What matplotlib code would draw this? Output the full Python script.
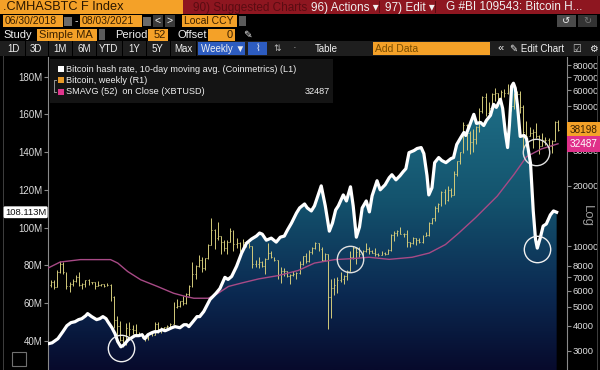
import matplotlib
matplotlib.use("Agg")
import matplotlib.pyplot as plt
import matplotlib.transforms as mtransforms
import matplotlib.dates as mdates
from matplotlib.patches import Rectangle
from matplotlib.colors import LinearSegmentedColormap
import numpy as np
import pandas as pd

plt.rcParams['font.family'] = ['Liberation Sans', 'DejaVu Sans']

# ---- hash rate, 10-day MA (millions TH/s)
hash_dates = ['2018-06-30', '2018-07-09', '2018-07-22', '2018-08-02', '2018-08-11', '2018-08-20',
              '2018-08-29', '2018-09-06', '2018-09-13', '2018-09-22', '2018-09-26', '2018-10-05',
              '2018-10-16', '2018-10-23', '2018-10-30', '2018-11-06', '2018-11-10', '2018-11-19',
              '2018-11-26', '2018-12-02', '2018-12-09', '2018-12-16', '2018-12-25', '2019-01-02',
              '2019-01-09', '2019-01-18', '2019-01-25', '2019-01-31', '2019-02-07', '2019-02-16',
              '2019-02-22', '2019-03-01', '2019-03-10', '2019-03-17', '2019-03-23', '2019-04-01',
              '2019-04-08', '2019-04-19', '2019-04-28', '2019-05-04', '2019-05-09', '2019-05-18',
              '2019-05-27', '2019-06-02', '2019-06-11', '2019-06-25', '2019-07-08', '2019-07-17',
              '2019-07-28', '2019-08-04', '2019-08-12', '2019-08-23', '2019-09-03', '2019-09-14',
              '2019-09-25', '2019-10-06', '2019-10-13', '2019-10-19', '2019-10-28', '2019-11-08',
              '2019-11-19', '2019-11-28', '2019-12-07', '2019-12-14', '2019-12-23', '2020-01-03',
              '2020-01-10', '2020-01-21', '2020-01-27', '2020-02-05', '2020-02-12', '2020-02-18',
              '2020-02-27', '2020-03-07', '2020-03-16', '2020-03-23', '2020-03-30', '2020-04-05',
              '2020-04-16', '2020-04-23', '2020-05-02', '2020-05-08', '2020-05-15', '2020-05-22',
              '2020-05-28', '2020-06-06', '2020-06-13', '2020-06-19', '2020-06-30', '2020-07-07',
              '2020-07-18', '2020-07-27', '2020-08-02', '2020-08-11', '2020-08-20', '2020-08-27',
              '2020-09-02', '2020-09-09', '2020-09-20', '2020-09-27', '2020-10-06', '2020-10-12',
              '2020-10-19', '2020-10-23', '2020-10-30', '2020-11-05', '2020-11-14', '2020-11-21',
              '2020-11-30', '2020-12-11', '2020-12-17', '2020-12-24', '2021-01-02', '2021-01-09',
              '2021-01-13', '2021-01-20', '2021-01-31', '2021-02-06', '2021-02-15', '2021-02-22',
              '2021-02-28', '2021-03-09', '2021-03-16', '2021-03-22', '2021-03-31', '2021-04-05',
              '2021-04-11', '2021-04-16', '2021-04-20', '2021-04-25', '2021-04-29', '2021-05-03',
              '2021-05-08', '2021-05-14', '2021-05-23', '2021-05-28', '2021-06-06', '2021-06-12',
              '2021-06-17', '2021-06-21', '2021-06-28', '2021-07-04', '2021-07-11', '2021-07-20',
              '2021-07-27', '2021-08-03']
hash_vals = [38.4, 38.9, 41.1, 44.8, 48.0, 49.6,
             50.1, 51.2, 51.7, 53.3, 54.4, 52.8,
             51.2, 51.7, 52.8, 51.7, 50.1, 46.9,
             43.7, 39.5, 36.8, 37.9, 40.5, 41.6,
             42.7, 42.7, 43.2, 41.1, 43.2, 44.3,
             44.8, 44.8, 45.9, 45.3, 45.9, 46.9,
             47.5, 46.9, 48.5, 48.5, 47.5, 50.1,
             52.8, 52.8, 55.5, 61.9, 65.1, 67.7,
             73.6, 72.5, 74.1, 79.5, 86.4, 91.7,
             93.9, 95.5, 97.1, 96.5, 93.3, 94.4,
             92.3, 94.9, 95.5, 98.7, 102.4, 107.7,
             110.4, 112.5, 110.4, 108.8, 111.5, 115.7,
             122.1, 111.5, 98.1, 102.4, 109.3, 111.5,
             117.3, 114.1, 121.6, 111.5, 94.9, 100.3,
             110.4, 114.1, 108.3, 116.8, 124.8, 120.0,
             122.7, 126.4, 128.0, 125.3, 127.5, 129.6,
             131.2, 139.7, 140.8, 141.9, 142.4, 139.2,
             127.5, 117.3, 121.1, 134.4, 137.1, 135.5,
             134.4, 136.5, 137.1, 144.0, 147.7, 150.4,
             148.8, 153.1, 160.0, 155.2, 155.7, 154.1,
             156.8, 159.5, 165.3, 163.7, 168.0, 163.2,
             150.4, 142.4, 154.1, 174.9, 176.5, 173.9,
             164.8, 148.3, 148.8, 147.2, 133.9, 108.8,
             93.9, 89.1, 94.9, 100.8, 101.9, 106.7,
             108.8, 108.113]

# ---- XBTUSD weekly bars (close / high / low), first bar opens at first_open
first_open = 6390
closes = [6600, 6250, 7400, 8200, 7400, 6300, 6500, 6700, 7000, 6400, 6500, 6750, 6600,
          6600, 6300, 6400, 6450, 6350, 6400, 5600, 4300, 4000, 3400, 3250, 3900, 3850,
          # 2019
          3800, 3600, 3650, 3570, 3480, 3650, 3620, 4100, 3820, 3900, 3950, 4000, 4100,
          5000, 5050, 5300, 5200, 5800, 6300, 7300, 8000, 8500, 7800, 8700, 10200, 12000,
          11000, 11300, 10500, 9800, 10500, 11900, 10300, 10400, 9600, 10500, 10350, 10000, 8200,
          8150, 8300, 7950, 8650, 9250, 8800, 8500, 7300, 7550, 7500, 7100, 7150, 7250,
          # 2020
          7350, 8200, 8900, 8450, 9350, 9800, 10350, 9700, 8550, 9100, 5600, 6200, 6400,
          6750, 6900, 7100, 7550, 8800, 9800, 9350, 9150, 9450, 9650, 9450, 9300, 9150,
          9050, 9250, 9150, 9550, 11350, 11600, 11850, 11550, 11550, 10500, 10400, 11000, 10700,
          10550, 11300, 11350, 13000, 13800, 15500, 16300, 18700, 17100, 19150, 18050, 23000, 26500,
          # 2021
          29400, 40500, 36800, 33000, 34300, 39300, 47500, 55900, 46200, 48800,
          57300, 58300, 55200, 59000, 58100, 61300, 50100, 57800, 57400, 49700,
          37300, 35600, 36800, 37300, 35600, 31600, 33800, 33800, 31500, 33600,
          41500, 38198]
highs = [6780, 6800, 7600, 8450, 8300, 7450, 6600, 6850, 7150, 7400, 6550, 6800, 6850,
         6650, 6650, 6700, 6500, 6500, 6550, 6450, 5650, 4500, 4250, 3550, 4150, 4200,
         4050, 4100, 3750, 3700, 3600, 3700, 3700, 4200, 4180, 3950, 3970, 4050, 4150,
         5250, 5450, 5350, 5650, 5850, 6400, 8300, 8100, 9000, 8800, 8750, 10300, 13850,
         12200, 13150, 11200, 10700, 10700, 12300, 12000, 10950, 10450, 10900, 10600, 10400, 10050,
         8500, 8800, 8400, 8750, 10350, 9500, 8850, 8550, 7850, 7750, 7550, 7250, 7550,
         7450, 8450, 8950, 9200, 9550, 9900, 10500, 10400, 9950, 9200, 9150, 6900, 6950,
         7000, 7450, 7150, 7650, 9450, 10050, 9950, 9900, 9600, 10400, 9950, 9600, 9800,
         9300, 9450, 9350, 9650, 11450, 11900, 12100, 12450, 11650, 12050, 10550, 11100, 11000,
         10950, 11400, 11750, 13250, 13850, 15950, 16500, 18800, 19400, 19900, 19450, 23800, 26800,
         29600, 41900, 40600, 37800, 38400, 39700, 48900, 56300, 58300, 52600,
         58000, 61800, 58500, 60000, 61200, 64900, 61300, 58500, 59500, 59600,
         50600, 42400, 39400, 38500, 41300, 35900, 36600, 35100, 34900, 33800,
         42200, 42500]
lows = [6250, 6100, 6250, 7350, 7300, 6150, 5900, 6300, 6650, 6300, 6150, 6280, 6400,
        6450, 6150, 6300, 6350, 6250, 6300, 5300, 3900, 3550, 3350, 3150, 3200, 3550,
        3650, 3550, 3550, 3500, 3380, 3400, 3560, 3600, 3700, 3700, 3800, 3900, 3950,
        4100, 4900, 4950, 5100, 5150, 5650, 6250, 6900, 7900, 7450, 7650, 8600, 10150,
        9650, 10800, 9100, 9500, 9150, 10500, 9500, 9800, 9350, 9600, 9900, 9850, 7750,
        7850, 7800, 7850, 7300, 8650, 8700, 8400, 6900, 6550, 7100, 7050, 6450, 7100,
        6900, 7300, 8050, 8250, 8350, 9150, 9700, 9450, 8450, 8450, 3850, 4400, 5700,
        5850, 6650, 6500, 6800, 7500, 8600, 8150, 8800, 8700, 9400, 9100, 9200, 8950,
        8900, 9050, 9050, 9150, 9500, 10650, 11200, 11450, 11100, 9900, 9900, 10250, 10150,
        10400, 10400, 11200, 11300, 12900, 13300, 14850, 15800, 16300, 16900, 17650, 18000, 22400,
        25800, 29100, 30400, 28900, 29700, 32300, 37400, 46300, 44900, 45100,
        48300, 53300, 50400, 54900, 55500, 57900, 47100, 48500, 53000, 46300,
        30100, 31200, 35400, 31100, 34800, 28800, 31600, 32100, 31100, 29300,
        33600, 37500]

# ---- SMAVG(52) on close
sma_dates = ['2018-06-30', '2018-07-27', '2018-09-10', '2018-11-16', '2018-12-02', '2018-12-24',
             '2019-01-22', '2019-02-28', '2019-04-05', '2019-05-02', '2019-05-20', '2019-06-21',
             '2019-07-13', '2019-08-05', '2019-09-03', '2019-10-11', '2019-11-24', '2020-01-07',
             '2020-02-12', '2020-03-28', '2020-05-05', '2020-06-12', '2020-07-27', '2020-09-16',
             '2020-10-24', '2020-11-29', '2020-12-29', '2021-02-04', '2021-03-24', '2021-04-30',
             '2021-05-28', '2021-06-30', '2021-08-06']
sma_vals = [7780, 8340, 8575, 8575, 8240, 7480,
            6800, 6300, 5825, 5610, 5500, 5500,
            5825, 6300, 6550, 6870, 7140, 7570,
            8240, 8575, 8670, 8810, 8600, 8810,
            9250, 10200, 11660, 13900, 17800, 22800,
            28000, 30600, 32487]

# highlighted spots (white rings)
ring_hash_dates = ['2018-12-09', '2021-06-21']
ring_hash_vals = [36.0, 88.5]
ring_px_dates = ['2020-05-02', '2021-06-18']
ring_px_vals = [8670, 29400]

last_hash = 108.113
last_px = 38198
last_sma = 32487

left_ticks = [40, 60, 80, 100, 120, 140, 160, 180]
right_ticks = [3000, 4000, 5000, 6000, 7000, 8000, 10000, 20000, 30000, 40000,
               50000, 60000, 70000, 80000]

ORANGE = '#f4a128'
W, H = 600, 370
fig = plt.figure(figsize=(6, 3.7), dpi=100, facecolor='black')


def px_box(x0, y0, x1, y1, color, z=2, fill=True):
    fig.add_artist(Rectangle((x0 / W, 1 - y1 / H), (x1 - x0) / W, (y1 - y0) / H,
                             transform=fig.transFigure, facecolor=color if fill else 'none',
                             edgecolor='none' if fill else color, lw=0.8, zorder=z))


def px_text(x, y, s, color='#f0f0f0', size=7.5, ha='left', **kw):
    fig.text(x / W, 1 - y / H, s, color=color, fontsize=size, ha=ha, va='center', zorder=6, **kw)


# ---- header rows
px_box(0, 0, 183, 14, ORANGE)
px_text(3, 7.5, '.CMHASBTC F Index', color='#2a1600', size=9.2)
px_box(183, 0, 600, 14, '#8e1620')
px_text(193, 7.5, '90) Suggested Charts', color='#5a0c12', size=8.5)
px_text(311, 7.5, '96) Actions ▾', size=8.5)
px_box(379.5, 1, 380.5, 13, '#5a0c12', z=3)
px_text(385, 7.5, '97) Edit ▾', size=8.5)
px_box(434.5, 1, 435.5, 13, '#5a0c12', z=3)
px_text(446, 7.5, 'G #BI 109543: Bitcoin H...', size=8.5)

px_box(3, 15, 63, 27, ORANGE)
px_text(5, 21, '06/30/2018', color='#3a2000', size=7.5)
px_box(64, 16.5, 72, 25.5, '#6a6a6a')
px_text(75, 21, '-')
px_box(80, 15, 142, 27, ORANGE)
px_text(82, 21, '08/03/2021', color='#3a2000', size=7.5)
px_box(143, 16.5, 151, 25.5, '#6a6a6a')
px_box(153, 15, 163, 27, '#3a3a3a')
px_text(158, 21, '<', ha='center', size=7.5)
px_box(165, 15, 175, 27, '#3a3a3a')
px_text(170, 21, '>', ha='center', size=7.5)
px_box(182, 15, 237, 27, ORANGE)
px_text(184, 21, 'Local CCY', color='#3a2000', size=7.5)
px_box(239, 16, 246, 26, '#5a5a5a')
px_box(557, 15, 576, 27, '#4a4a4a')
px_text(566.5, 21, '↺', ha='center', size=7)
px_box(578, 15, 597, 27, '#333333')
px_text(587.5, 21, '↻', ha='center', size=7, color='#777777')

px_text(3, 34.5, 'Study', size=8)
px_box(37, 28.5, 97, 40.5, ORANGE)
px_text(39, 34.5, 'Simple MA', color='#3a2000', size=8)
px_box(99, 29.5, 105, 39.5, '#5a5a5a')
px_text(115, 34.5, 'Period', size=8)
px_box(148, 28.5, 168, 40.5, ORANGE)
px_text(166, 34.5, '52', color='#3a2000', ha='right', size=8)
px_text(178, 34.5, 'Offset', size=8)
px_box(208, 28.5, 235, 40.5, ORANGE)
px_text(233, 34.5, '0', color='#3a2000', ha='right', size=8)
px_text(243, 34.5, '✎', size=7.5)

px_box(0, 41, 600, 56, '#1e1e1e')
for sx in [25, 48, 72, 96, 122, 146, 170, 196]:
    px_box(sx, 41, sx + 1, 56, 'black', z=3)
for lbl, cx in zip(['1D', '3D', '1M', '6M', 'YTD', '1Y', '5Y', 'Max'],
                   [14, 36, 60, 84, 109, 134, 157, 183]):
    px_text(cx, 48.5, lbl, ha='center', size=7)
px_box(198, 42, 245, 55, '#2d5cc0')
px_text(201, 48.5, 'Weekly ▼', size=7)
px_box(248, 42, 267, 55, '#2d5cc0')
px_text(257.5, 48.5, '⌇', ha='center', size=7)
px_text(273, 48.5, '⇅', size=6.5, color='#bbbbbb')
px_text(293, 48.5, '·', size=8, color='#bbbbbb')
px_text(315, 48.5, 'Table', size=7)
px_box(373, 42, 490, 55, ORANGE)
px_text(375, 48.5, 'Add Data', color='#7a4d00', size=7.5)
px_text(498, 48.5, '«', size=8)
px_text(510, 48.5, '✎ Edit Chart', size=7)
px_text(572, 48.5, '☑', size=7, color='#cccccc')
px_text(589, 48.5, '⚙', size=7)

# frame lines and icon
px_box(3, 56, 4, 370, '#3c3c3c')
px_box(596.5, 56, 597.5, 370, '#3c3c3c')
px_box(12, 352, 26, 366, '#707070', fill=False)

# ---- main plot
ax = fig.add_axes([48 / W, 0, (567 - 48) / W, (370 - 57) / H])
ax.set_facecolor('black')
x0 = pd.Timestamp('2018-06-30')
x1 = pd.Timestamp('2021-08-26')
hy0, hy1 = 24.5, 190.4

hd = pd.to_datetime(hash_dates)
hv = np.array(hash_vals)

grad = np.linspace(0, 1, 256).reshape(-1, 1)
cmap = LinearSegmentedColormap.from_list(
    'bbg', [(0, '#070a2c'), (0.25, '#0b2a52'), (0.55, '#14546e'), (0.9, '#1f7088'), (1, '#22788f')])
im = ax.imshow(grad, extent=(mdates.date2num(x0), mdates.date2num(x1), hy0, hy1),
               origin='lower', aspect='auto', cmap=cmap, zorder=1)
poly = ax.fill_between(hd, hv, hy0, facecolor='none', edgecolor='none')
im.set_clip_path(poly.get_paths()[0], transform=ax.transData)
ax.set_xlim(x0, x1)
ax.set_ylim(hy0, hy1)

ax.set_yticks(left_ticks)
ax.set_yticklabels([f'{v}M' for v in left_ticks])
ax.tick_params(axis='y', colors='#8a8a8a', labelcolor='#dddddd', labelsize=7,
               length=3, width=0.8, pad=1)
ax.xaxis.set_visible(False)
for s in ['top', 'bottom', 'right']:
    ax.spines[s].set_visible(False)
ax.spines['left'].set_color('#8a8a8a')

# price on the log axis
ax2 = ax.twinx()
ax2.set_yscale('log')
ax2.set_ylim(2410, 88100)
pd_dates = pd.date_range('2018-07-06', periods=len(closes), freq='7D')
opens = [first_open] + closes[:-1]
bar_col = '#d2ca7a'
tick = pd.Timedelta(days=2)
ax2.vlines(pd_dates, lows, highs, color=bar_col, lw=0.7, zorder=3)
ax2.hlines(opens, pd_dates - tick, pd_dates, color=bar_col, lw=0.7, zorder=3)
ax2.hlines(closes, pd_dates, pd_dates + tick, color=bar_col, lw=0.7, zorder=3)
ax2.plot(pd.to_datetime(sma_dates), sma_vals, color='#a84a86', lw=1.0, zorder=4)
ax2.plot(pd.to_datetime(ring_px_dates), ring_px_vals, 'o', ms=19, mfc='none',
         mec='#e0e0e0', mew=1.0, zorder=5)
ax2.set_yticks(right_ticks)
ax2.set_yticklabels([str(v) for v in right_ticks])
ax2.minorticks_off()
ax2.tick_params(axis='y', colors='#8a8a8a', labelcolor='#dddddd', labelsize=6.8,
                length=3, width=0.8, pad=1)
ax2.set_xlim(x0, x1)
for s in ['top', 'bottom', 'left']:
    ax2.spines[s].set_visible(False)
ax2.spines['right'].set_color('#8a8a8a')

# hash line on top
ax3 = ax.twinx()
ax3.set_ylim(hy0, hy1)
ax3.set_xlim(x0, x1)
ax3.plot(hd, hv, color='white', lw=2.3, solid_joinstyle='round', zorder=6)
ax3.plot(pd.to_datetime(ring_hash_dates), ring_hash_vals, 'o', ms=19, mfc='none',
         mec='#f0f0f0', mew=1.0, zorder=7)
ax3.axis('off')

# last-value tags (they sit over the right-hand tick labels, as on the terminal)
tr_l = mtransforms.blended_transform_factory(fig.transFigure, ax.transData)
fig.text(5 / W, last_hash, f'{last_hash:.3f}M', transform=tr_l, fontsize=6.8,
         color='#111111', va='center', ha='left', zorder=10,
         bbox=dict(boxstyle='round,pad=0.15', fc='white', ec='none'))
tr_r = mtransforms.blended_transform_factory(fig.transFigure, ax2.transData)
fig.text(570 / W, last_px, str(last_px), transform=tr_r, fontsize=7.2, color='#3a2000',
         va='center', ha='left', zorder=10,
         bbox=dict(boxstyle='square,pad=0.3', fc=ORANGE, ec='none'))
fig.text(570 / W, last_sma, str(last_sma), transform=tr_r, fontsize=7.2, color='white',
         va='center', ha='left', zorder=10,
         bbox=dict(boxstyle='square,pad=0.3', fc='#e0308a', ec='none'))
px_text(587, 216, 'Log', color='#9a9a9a', size=9.5, ha='center', rotation=270)

# legend block
px_box(50, 59, 333, 103, '#141414', z=4)
px_box(58, 66, 64, 72, 'white', z=5)
px_text(66, 69.5, 'Bitcoin hash rate, 10-day moving avg. (Coinmetrics) (L1)', size=6.6)
px_box(58, 77, 64, 83, '#e89a28', z=5)
px_text(66, 80.5, 'Bitcoin, weekly (R1)', size=6.6)
px_box(58, 89, 64, 95, '#e0358c', z=5)
px_text(66, 92, 'SMAVG (52)  on Close (XBTUSD)', size=6.6)
px_text(330, 92, str(last_sma), size=6.6, ha='right')
px_box(54, 79.5, 55, 92.5, '#909090', z=5)
px_box(54, 79.5, 57, 80.5, '#909090', z=5)
px_box(54, 91.5, 57, 92.5, '#909090', z=5)

fig.savefig('out.png', dpi=100, facecolor='black')
